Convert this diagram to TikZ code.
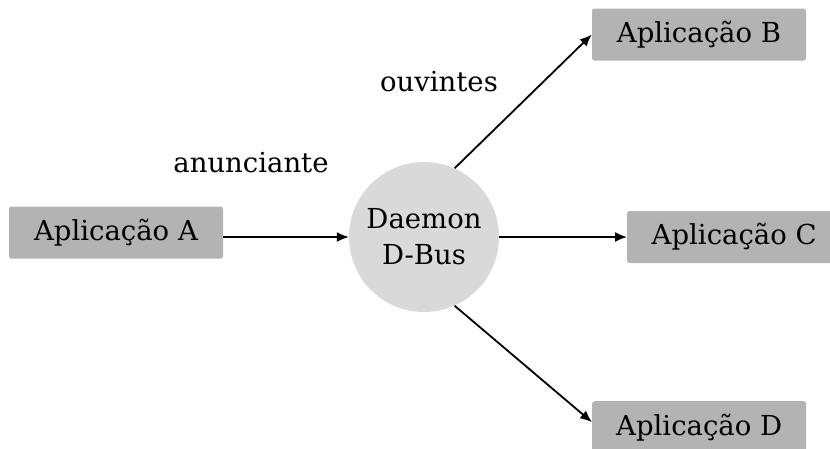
\documentclass[tikz,border=0pt]{standalone}
\usepackage{fontspec}
\setmainfont{DejaVu Serif}
\usetikzlibrary{arrows.meta}
\definecolor{boxgray}{HTML}{B3B3B3}
\definecolor{circgray}{HTML}{D9D9D9}
\begin{document}
\begin{tikzpicture}[x=1pt,y=-1pt,
  appbox/.style={fill=boxgray,rounded corners=2.5pt,minimum height=52pt,minimum width=214pt,inner sep=0pt,font=\fontsize{27.5}{33}\selectfont},
  daemon/.style={circle,fill=circgray,minimum size=150pt,inner sep=0pt,align=center,font=\fontsize{27.5}{36}\selectfont},
  lbl/.style={font=\fontsize{27.5}{33}\selectfont},
  conn/.style={line width=1.8pt,-{Latex[length=12pt,width=10pt]}}]
\useasboundingbox (0,0) rectangle (830,448);
\node[appbox] (A) at (116,232.5) {Aplicação A};
\node[daemon] (bus) at (424,237) {Daemon\\D-Bus};
\node[appbox] (B) at (699,34.5) {Aplicação B};
\node[appbox,anchor=west] (C) at (627,237) {Aplicação C};
\node[appbox,anchor=north west] (D) at (592,401) {Aplicação D};
\node[lbl] (anun) at (251,163) {anunciante};
\node[lbl] (ouv) at (439,82) {ouvintes};
\draw[conn] (bus.west -| A.east) -- (bus.west);
\draw[conn] (bus.66) -- (B.west);
\draw[conn] (bus.east) -- (C.west);
\draw[conn] (bus.-66) -- ([yshift=5pt]D.west);
\end{tikzpicture}
\end{document}
